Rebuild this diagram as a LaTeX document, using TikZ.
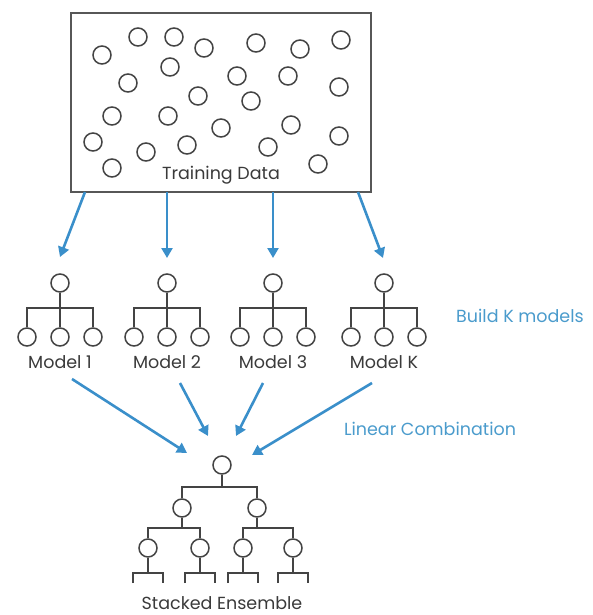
\documentclass[tikz,border=0pt]{standalone}
\usepackage{fontspec}
\setmainfont{Poppins}
\usetikzlibrary{arrows.meta,calc}
\definecolor{arrblue}{HTML}{3A8FCA}
\definecolor{txtblue}{HTML}{4A9BCC}
\definecolor{lgrey}{HTML}{444444}
\definecolor{tgrey}{HTML}{3A3A3A}
\begin{document}
\begin{tikzpicture}[x=1pt,y=-1pt,
  dot/.style={circle,draw=lgrey,line width=1.5pt,minimum size=18pt,inner sep=0pt},
  tline/.style={draw=lgrey,line width=1.5pt},
  arr/.style={draw=arrblue,line width=2.6pt,-{Triangle[length=10pt,width=11pt]}},
  lab/.style={text=tgrey,font=\fontsize{17.5}{20}\selectfont,inner sep=0pt},
  blab/.style={text=txtblue,font=\fontsize{17.5}{20}\selectfont,inner sep=0pt}]
\useasboundingbox (0,0) rectangle (592,615);
% training data box
\node[draw=lgrey!90,line width=1.6pt,minimum width=300pt,minimum height=179pt,inner sep=0pt] (data) at (221,102.5) {};
\foreach \x/\y [count=\i] in {102/55,138/37,174/37,204/48,256/43,300/49,341/40,128/83,170/67,237/76,288/76,339/87,198/96,251/101,112/116,168/116,221/128,291/125,339/136,93/142,146/152,187/145,268/147,112/168,318/164}
  \node[dot] (p\i) at (\x,\y) {};
\node[lab] (tdlab) at (221,175) {Training Data};
% models
\foreach \cx/\name/\txt in {60/m1/Model 1,167/m2/Model 2,273/m3/Model 3,384/mk/Model K}{
  \node[dot] (\name t) at (\cx,283) {};
  \node[dot] (\name a) at (\cx-33,337) {};
  \node[dot] (\name b) at (\cx,337) {};
  \node[dot] (\name c) at (\cx+33,337) {};
  \coordinate (\name bar) at (\cx,308);
  \draw[tline] (\name t) -- (\name b);
  \draw[tline] (\name a) |- (\name bar) -| (\name c);
  \node[lab] (\name lab) at (\cx,362) {\txt};
}
\node[blab] (build) at (520,316) {Build K models};
\node[blab] (lin) at (430,429) {Linear Combination};
% arrows from data
\coordinate (s1) at (85,192);  \coordinate (e1) at (60,257);
\coordinate (s2) at (167,192); \coordinate (e2) at (167,258);
\coordinate (s3) at (273,192); \coordinate (e3) at (273,258);
\coordinate (s4) at (358,192); \coordinate (e4) at (383,258);
\foreach \i in {1,2,3,4} \draw[arr] (s\i) -- (e\i);
% stacked ensemble
\node[dot] (r) at (222,465) {};
\node[dot] (ea) at (182,508) {};
\node[dot] (eb) at (257,508) {};
\node[dot] (ea1) at (148,548) {};
\node[dot] (ea2) at (200,548) {};
\node[dot] (eb1) at (243,548) {};
\node[dot] (eb2) at (293,548) {};
\coordinate (rbar) at (222,487);
\coordinate (eabar) at (182,528);
\coordinate (ebbar) at (257,528);
\draw[tline] (r) -- (rbar);
\draw[tline] (ea) |- (rbar) -| (eb);
\draw[tline] (ea) -- (eabar);
\draw[tline] (ea1) |- (eabar) -| (ea2);
\draw[tline] (eb) -- (ebbar);
\draw[tline] (eb1) |- (ebbar) -| (eb2);
\foreach \n/\x in {ea1/148,ea2/200,eb1/243,eb2/293}{
  \coordinate (\n s) at (\x,573);
  \coordinate (\n l) at (\x-15,583);
  \coordinate (\n r) at (\x+15,583);
  \draw[tline] (\n) -- (\n s);
  \draw[tline] (\n l) |- (\n s) -| (\n r);
}
\node[lab] (selab) at (222,603) {Stacked Ensemble};
% arrows to ensemble
\coordinate (f1) at (72,379);  \coordinate (g1) at (187,453);
\coordinate (f2) at (180,383); \coordinate (g2) at (208,436);
\coordinate (f3) at (263,383); \coordinate (g3) at (236,436);
\coordinate (f4) at (372,383); \coordinate (g4) at (252,455);
\foreach \i in {1,2,3,4} \draw[arr] (f\i) -- (g\i);
\end{tikzpicture}
\end{document}
